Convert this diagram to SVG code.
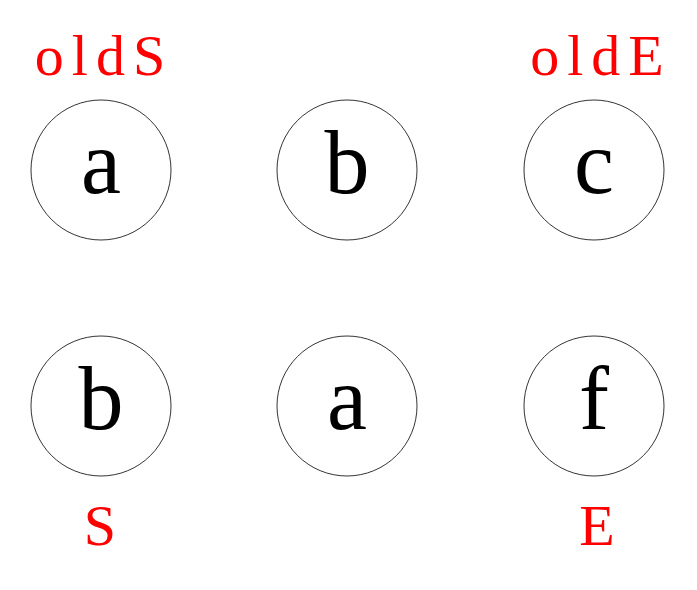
<svg xmlns="http://www.w3.org/2000/svg" width="697" height="590" viewBox="0 0 697 590">
<style>
.n{fill:none;stroke:#000;stroke-width:0.8}
.t{font-family:"Liberation Serif","DejaVu Serif",serif;font-size:90px;text-anchor:middle;fill:#000}
.r{font-family:"Liberation Serif","DejaVu Serif",serif;font-size:58px;text-anchor:middle;fill:#f00}
.s{letter-spacing:8px}
</style>
<rect width="697" height="590" fill="#fff"/>
<g id="connectors"></g>
<g id="n1"><circle class="n" cx="101" cy="170" r="70"/><text class="t" x="101" y="193">a</text></g>
<g id="n2"><circle class="n" cx="347" cy="170" r="70"/><text class="t" x="347" y="193">b</text></g>
<g id="n3"><circle class="n" cx="594" cy="170" r="70"/><text class="t" x="594" y="193">c</text></g>
<g id="n4"><circle class="n" cx="101" cy="406" r="70"/><text class="t" x="101" y="429">b</text></g>
<g id="n5"><circle class="n" cx="347" cy="406" r="70"/><text class="t" x="347" y="429">a</text></g>
<g id="n6"><circle class="n" cx="594" cy="406" r="70"/><text class="t" x="594" y="429">f</text></g>
<g id="labels">
<text class="r s" x="104" y="75">oldS</text>
<text class="r s" x="601" y="75">oldE</text>
<text class="r" x="100" y="545">S</text>
<text class="r" x="597" y="545">E</text>
</g>
</svg>
